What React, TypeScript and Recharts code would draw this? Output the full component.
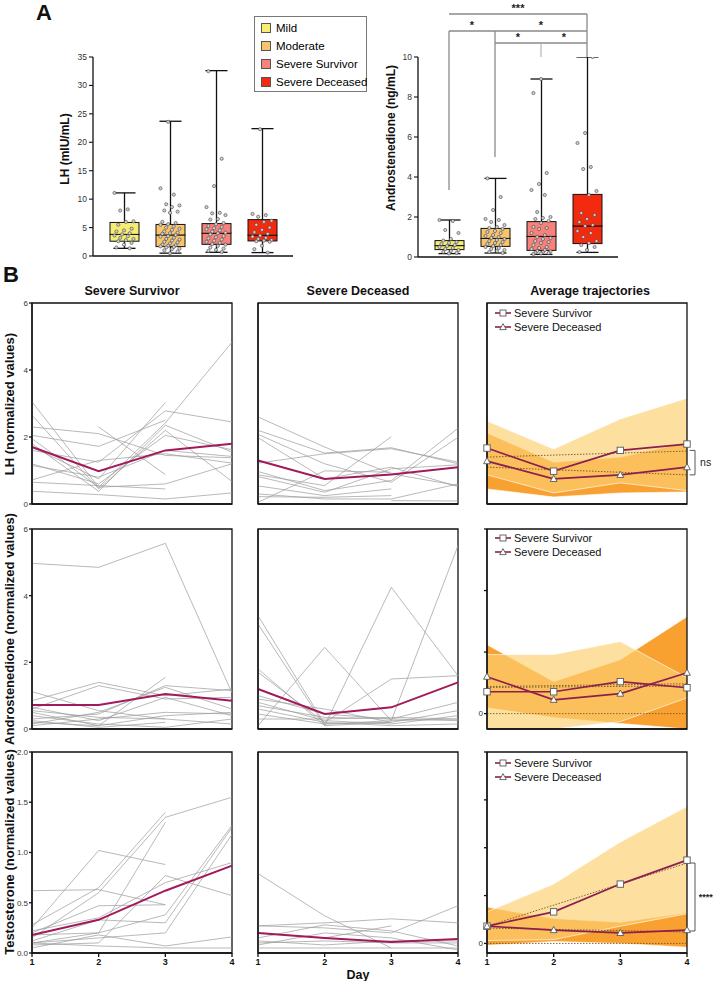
import React from 'react';
import {
  ComposedChart, LineChart, Line, Bar, Scatter, Area, XAxis, YAxis,
  ReferenceLine, ReferenceArea,
} from 'recharts';

const FONT = '"Liberation Sans", Arial, Helvetica, sans-serif';

// ---------- Panel A : box plots ----------
const groups = ['Mild', 'Moderate', 'Severe Survivor', 'Severe Deceased'];
const groupColors = ['#F6EE72', '#F9C46A', '#F7817B', '#F42A0F'];

const lhMin = [1.35, 0.5, 0.65, 0.6];
const lhQ1 = [2.6, 1.65, 2.05, 2.65];
const lhMed = [3.8, 3.7, 4.0, 3.65];
const lhQ3 = [5.9, 5.55, 5.7, 6.4];
const lhMax = [11.1, 23.7, 32.6, 22.4];
const lhTicks = [0, 5, 10, 15, 20, 25, 30, 35];

const lhMild = [11.1, 8.2, 8.0, 6.1, 6.0, 5.5, 4.8, 4.5, 4.3, 4.0, 3.8, 3.6, 3.5, 3.2, 3.0, 2.8, 2.6, 2.3, 2.0, 1.5, 1.35];
const lhModerate = [23.6, 11.9, 10.8, 9.1, 8.9, 8.6, 8.0, 7.8, 7.6, 6.0, 5.8, 5.6, 5.5, 5.2, 5.0, 4.8, 4.6, 4.3, 4.1, 4.0, 3.9, 3.7, 3.5, 3.4, 3.2, 3.0, 2.9, 2.7, 2.5, 2.4, 2.2, 2.0, 1.9, 1.8, 1.7, 1.6, 1.5, 1.3, 1.2, 1.0, 0.8, 0.5];
const lhSurvivor = [32.5, 17.1, 12.3, 8.6, 7.6, 7.5, 7.2, 6.5, 6.4, 5.8, 5.6, 5.3, 5.1, 4.9, 4.7, 4.5, 4.3, 4.1, 4.0, 3.8, 3.5, 3.3, 3.1, 2.9, 2.7, 2.5, 2.3, 2.1, 2.0, 1.8, 1.5, 1.3, 1.1, 0.9, 0.7];
const lhDeceased = [22.3, 7.4, 7.2, 6.9, 6.2, 6.0, 5.5, 5.0, 4.6, 4.2, 3.9, 3.6, 3.4, 3.2, 3.0, 2.8, 2.7, 2.6, 2.5, 1.8, 1.2, 0.6];

const anMin = [0.17, 0.2, 0.13, 0.23];
const anQ1 = [0.37, 0.53, 0.33, 0.67];
const anMed = [0.57, 0.93, 1.03, 1.55];
const anQ3 = [0.82, 1.43, 1.77, 3.13];
const anMax = [1.85, 3.93, 8.9, 10.0];
const anTicks = [0, 2, 4, 6, 8, 10];

const anMild = [1.85, 1.8, 1.35, 1.2, 0.9, 0.82, 0.75, 0.7, 0.65, 0.6, 0.55, 0.5, 0.45, 0.4, 0.35, 0.3, 0.25, 0.2, 0.18];
const anModerate = [3.93, 3.0, 2.35, 1.9, 1.85, 1.75, 1.6, 1.5, 1.45, 1.4, 1.3, 1.25, 1.2, 1.1, 1.05, 1.0, 0.95, 0.9, 0.85, 0.8, 0.75, 0.7, 0.65, 0.6, 0.55, 0.5, 0.45, 0.4, 0.35, 0.3, 0.25, 0.2];
const anSurvivor = [8.9, 8.2, 4.2, 3.65, 3.35, 3.1, 2.25, 2.0, 1.95, 1.9, 1.8, 1.7, 1.5, 1.45, 1.4, 1.2, 1.1, 1.0, 0.95, 0.9, 0.8, 0.75, 0.7, 0.6, 0.5, 0.45, 0.4, 0.35, 0.3, 0.28, 0.25, 0.22, 0.2, 0.18, 0.15];
const anDeceased = [10.0, 6.2, 5.7, 4.5, 4.4, 3.3, 3.1, 2.2, 2.1, 1.9, 1.75, 1.6, 1.55, 1.3, 1.2, 1.0, 0.8, 0.7, 0.6, 0.5, 0.35, 0.25];

// significance brackets (Androstenedione): bracket heights and leg ends
const sigTop = 12.15;
const sigMid = 11.3;
const sigLow = 10.7;
const legMild = 3.35;
const legModerate = 5.0;

// ---------- Panel B : trajectories ----------
const days = [1, 2, 3, 4];

const lhSurvLines = [
  [3.05, 0.5, 2.42, 4.83], [2.65, 0.45, 2.2, 0.67], [2.3, 2.1, 1.45, 1.38], [1.7, 0.75, 3.03, null],
  [2.05, 1.72, 2.5, null], [1.6, 1.25, 2.78, 2.45], [null, 2.3, 0.88, null], [1.2, 0.6, 2.05, 1.62],
  [0.72, 1.3, 1.5, 1.22], [1.95, 0.5, 0.6, 1.2], [0.38, 0.28, 0.15, 0.33], [0.65, 0.55, 0.45, null],
  [1.15, 0.8, 1.6, 1.42], [1.8, 0.38, 2.35, 1.55],
];
const lhSurvMean = [1.7, 0.98, 1.6, 1.8];
const lhDecLines = [
  [2.6, 1.7, 0.9, 0.55], [2.2, 1.52, 1.68, 1.2], [2.08, 1.2, 0.65, 1.99], [1.98, 0.75, 1.1, 0.52],
  [1.22, 1.5, 1.65, 1.25], [0.97, 0.4, 0.7, 2.26], [0.87, 0.55, 2.01, null], [0.82, 0.35, 1.05, 1.17],
  [0.54, 0.25, 0.45, null], [0.22, 0.2, 0.25, null], [0.05, 0.99, 0.95, null], [null, null, 0.1, 0.09],
  [0.3, 0.15, 0.15, 0.6],
];
const lhDecMean = [1.3, 0.75, 0.88, 1.1];

const anSurvLines = [
  [4.97, 4.85, 5.57, 1.08], [1.12, 0.55, 0.3, null], [0.85, 1.4, 1.0, 1.2], [0.6, 1.3, 0.9, 0.95],
  [0.5, 0.1, 1.55, null], [0.3, 0.45, 1.3, 1.15], [0.15, 0.5, 1.25, 0.6], [0.65, 0.25, 0.95, 0.4],
  [0.2, 0.1, 0.4, 0.5], [0.1, 0.3, 0.5, 0.45], [0.4, 0.15, 0.05, 0.3], [0.25, 0.05, 0.2, null],
  [0.55, 0.35, 0.3, 0.15],
];
const anSurvMean = [0.72, 0.72, 1.05, 0.85];
const anDecLines = [
  [3.4, 0.15, 0.25, 0.3], [3.15, 0.1, 0.2, null], [0.1, 2.45, 0.25, 5.5], [1.8, 0.1, 4.25, 1.6],
  [1.7, 0.2, 1.5, 1.6], [1.0, 0.45, 0.3, 0.8], [0.9, 0.6, 0.2, 0.55], [0.8, 0.25, 0.15, 0.4],
  [0.7, 0.35, 0.3, 0.25], [0.6, 0.2, 0.1, 0.15], [0.45, 0.15, 0.2, null], [0.3, 0.3, 0.35, 0.3],
];
const anDecMean = [1.2, 0.45, 0.65, 1.4];

const teSurvLines = [
  [0.62, 0.63, 0.48, null], [0.25, 1.02, 0.88, null], [0.28, 0.65, 1.4, null], [0.15, 0.6, 1.35, 1.55],
  [0.1, 0.2, 1.3, null], [0.2, 0.47, 0.48, null], [0.08, 0.1, 0.77, 0.57], [0.18, 0.2, 0.38, 1.27],
  [0.12, 0.33, 0.3, 1.25], [0.1, 0.15, 0.2, 1.18], [0.05, 0.18, 0.07, 0.16], [0.1, 0.07, 0.05, 0.05],
  [0.22, 0.35, 0.7, 0.9],
];
const teSurvMean = [0.18, 0.33, 0.62, 0.87];
const teDecLines = [
  [0.79, 0.37, 0.05, null], [0.27, 0.25, 0.2, 0.47], [0.27, 0.3, 0.34, 0.3], [0.2, 0.15, 0.27, null],
  [0.15, 0.28, 0.22, 0.07], [0.1, 0.12, 0.1, 0.1], [0.05, 0.05, 0.05, 0.05], [0.12, 0.08, 0.12, 0.12],
  [0.08, 0.2, 0.15, 0.03],
];
const teDecMean = [0.2, 0.15, 0.11, 0.14];

// average trajectories: mean, band (mean ± SD), trend end points
const lhAvgSurv = [1.67, 0.98, 1.6, 1.79];
const lhAvgDec = [1.28, 0.75, 0.87, 1.1];
const lhSurvLo = [0.87, 0.33, 0.63, 0.4];
const lhSurvHi = [2.48, 1.64, 2.54, 3.16];
const lhDecLo = [0.45, 0.21, 0.33, 0.36];
const lhDecHi = [2.12, 1.25, 1.4, 1.84];
const lhSurvTrend = [1.4, null, null, 1.58];
const lhDecTrend = [1.1, null, null, 0.87];
const lhBracket = [1.6, 0.87];

const anAvgSurv = [0.71, 0.71, 1.04, 0.84];
const anAvgDec = [1.2, 0.45, 0.65, 1.33];
const anSurvLo = [-0.5, -0.5, -0.26, 0.51];
const anSurvHi = [1.92, 1.92, 2.34, 1.17];
const anDecLo = [0.19, -0.13, -0.32, -0.5];
const anDecHi = [2.24, 1.04, 1.75, 3.15];
const anSurvTrend = [0.85, null, null, 0.9];
const anDecTrend = [0.88, null, null, 0.97];

const teAvgSurv = [0.18, 0.33, 0.62, 0.87];
const teAvgDec = [0.18, 0.14, 0.11, 0.14];
const teSurvLo = [0.03, 0.04, 0.18, 0.31];
const teSurvHi = [0.33, 0.62, 1.06, 1.43];
const teDecLo = [-0.02, 0.02, 0.0, -0.04];
const teDecHi = [0.38, 0.26, 0.22, 0.32];
const teSurvTrend = [0.18, null, null, 0.84];
const teDecTrend = [0.16, null, null, 0.12];
const teBracket = [0.84, 0.13];

const ticks6 = [0, 2, 4, 6];
const ticks2 = [0, 0.5, 1, 1.5, 2];

const axisStyle = { stroke: '#111', strokeWidth: 1.3 };
const MAGENTA = '#A3195B';
const AVG_LINE = '#8C1F50';

// ---------- helpers ----------
function boxTable(min: number[], q1: number[], med: number[], q3: number[], max: number[]) {
  return groups.map((g, i) => ({
    group: g, base: min[i], wLo: q1[i] - min[i], bLo: med[i] - q1[i], bHi: q3[i] - med[i], wHi: max[i] - q3[i],
  }));
}
function pointTable(sets: number[][]) {
  return sets.flatMap((s, i) => s.map((v) => ({ group: groups[i], v })));
}

const whisker = (top: boolean) => (p: any) => {
  const cx = p.x + p.width / 2;
  const cap = p.width * 0.38;
  const yEnd = top ? p.y : p.y + p.height;
  return (
    <g>
      <line x1={cx} x2={cx} y1={p.y} y2={p.y + p.height} stroke="#111" strokeWidth={1.3} />
      <line x1={cx - cap} x2={cx + cap} y1={yEnd} y2={yEnd} stroke="#111" strokeWidth={1.3} />
    </g>
  );
};
const boxShape = (p: any) => {
  const i = p.index ?? groups.indexOf(p.payload?.group);
  return <rect x={p.x} y={p.y} width={p.width} height={p.height} fill={groupColors[i]} stroke="#111" strokeWidth={1} />;
};
const jitterDot = (p: any) => {
  const off = ((((p.index ?? 0) * 7) % 11) - 5) * 1.9;
  return <circle cx={p.cx + off} cy={p.cy} r={1.6} fill="#d0d0d0" stroke="#444" strokeWidth={0.6} />;
};

function BoxChart({ left, table, points, yMax, ticks, plotH, children }: any) {
  return (
    <div style={{ position: 'absolute', left, top: 0 }}>
      <ComposedChart width={240} height={57 + plotH + 10} data={table} margin={{ top: 57, right: 10, bottom: 0, left: 0 }}>
        <XAxis dataKey="group" type="category" allowDuplicatedCategory={false} padding={{ left: 8, right: 8 }}
          tick={false} tickLine={false} height={10} axisLine={axisStyle} />
        <YAxis width={30} type="number" domain={[0, yMax]} ticks={ticks} interval={0} allowDataOverflow
          tickSize={4} tick={{ fontSize: 8.5, fill: '#333' }} axisLine={axisStyle} tickLine={{ stroke: '#111', strokeWidth: 1.1 }} />
        <Bar dataKey="base" stackId="b" barSize={29} fill="none" isAnimationActive={false} />
        <Bar dataKey="wLo" stackId="b" barSize={29} shape={whisker(false)} isAnimationActive={false} />
        <Bar dataKey="bLo" stackId="b" barSize={29} shape={boxShape} isAnimationActive={false} />
        <Bar dataKey="bHi" stackId="b" barSize={29} shape={boxShape} isAnimationActive={false} />
        <Bar dataKey="wHi" stackId="b" barSize={29} shape={whisker(true)} isAnimationActive={false} />
        <Scatter data={points} dataKey="v" shape={jitterDot} isAnimationActive={false} />
        {children}
      </ComposedChart>
    </div>
  );
}

const sigLine = { stroke: '#8a8a8a', strokeWidth: 1.3, ifOverflow: 'visible' as const };
const star = (value: string) => ({ value, position: 'top' as const, offset: 2, fontSize: 11, fontWeight: 700, fill: '#222' });

function Spaghetti({ left, top, h, lines, mean, domain, ticks, yLabels, xLabels, fmt }: any) {
  const data = days.map((d, i) => {
    const row: any = { day: d, mean: mean[i] };
    lines.forEach((l: any[], k: number) => { row['p' + k] = l[i]; });
    return row;
  });
  return (
    <div style={{ position: 'absolute', left: left - 30, top: top - 10 }}>
      <LineChart width={240} height={h + 30} data={data} margin={{ top: 10, right: 10, bottom: 0, left: 0 }}>
        <XAxis dataKey="day" type="number" domain={[1, 4]} ticks={days} interval={0} tickSize={4} height={20}
          axisLine={axisStyle} tickLine={axisStyle}
          tick={xLabels ? { fontSize: 9, fontWeight: 700, fill: '#111' } : false} />
        <YAxis width={30} type="number" domain={domain} ticks={ticks} interval={0} allowDataOverflow tickSize={3} tickMargin={1}
          axisLine={axisStyle} tickLine={axisStyle} tickFormatter={fmt}
          tick={yLabels ? { fontSize: 8, fill: '#333' } : false} />
        {lines.map((_: any, k: number) => (
          <Line key={k} type="linear" dataKey={'p' + k} stroke="#9b9b9b" strokeWidth={0.7} dot={false} isAnimationActive={false} />
        ))}
        <Line type="linear" dataKey="mean" stroke={MAGENTA} strokeWidth={2} dot={false} isAnimationActive={false} />
        <ReferenceArea x1={1} x2={4} y1={domain[0]} y2={domain[1]} fill="none" stroke="#111" strokeWidth={1.3} ifOverflow="visible" />
      </LineChart>
    </div>
  );
}

const sqDot = (p: any) => {
  if (p.cx == null || p.cy == null || p.value == null) return <g key={`s${p.index}`} />;
  return <rect key={`s${p.index}`} x={p.cx - 3.2} y={p.cy - 3.2} width={6.4} height={6.4} fill="#fff" stroke="#5a5a5a" strokeWidth={0.9} />;
};
const triDot = (p: any) => {
  if (p.cx == null || p.cy == null || p.value == null) return <g key={`t${p.index}`} />;
  return (
    <polygon key={`t${p.index}`} points={`${p.cx},${p.cy - 3.6} ${p.cx + 3.4},${p.cy + 2.6} ${p.cx - 3.4},${p.cy + 2.6}`}
      fill="#fff" stroke="#5a5a5a" strokeWidth={0.9} />
  );
};

function AvgPanel({ left, top, h, surv, dec, sLo, sHi, dLo, dHi, sTrend, dTrend, domain, ticks, zero, bracket, sig, xLabels }: any) {
  const data = days.map((d, i) => ({
    day: d, s: surv[i], d: dec[i], sBand: [sLo[i], sHi[i]], dBand: [dLo[i], dHi[i]], sT: sTrend[i], dT: dTrend[i],
  }));
  const bx = 4.12;
  const mid = bracket ? (bracket[0] + bracket[1]) / 2 : 0;
  return (
    <div style={{ position: 'absolute', left: left - 30, top: top - 10 }}>
      <ComposedChart width={258} height={h + 30} data={data} margin={{ top: 10, right: 28, bottom: 0, left: 0 }}>
        <XAxis dataKey="day" type="number" domain={[1, 4]} ticks={days} interval={0} tickSize={4} height={20}
          axisLine={axisStyle} tickLine={axisStyle}
          tick={xLabels ? { fontSize: 9, fontWeight: 700, fill: '#111' } : false} />
        <YAxis width={30} type="number" domain={domain} ticks={ticks} interval={0} allowDataOverflow tickSize={3} tickMargin={1}
          axisLine={axisStyle} tickLine={axisStyle} tickFormatter={(v: number) => (v === 0 ? '0' : '')}
          tick={zero ? { fontSize: 8, fill: '#333' } : false} />
        <Area type="linear" dataKey="dBand" fill="#F8A030" fillOpacity={1} stroke="#ffffff" strokeOpacity={0.8} strokeWidth={0.8} isAnimationActive={false} />
        <Area type="linear" dataKey="sBand" fill="#FCCF71" fillOpacity={0.67} stroke="#ffffff" strokeOpacity={0.8} strokeWidth={0.8} isAnimationActive={false} />
        {zero && <ReferenceLine y={0} stroke="#7a5a20" strokeDasharray="1.5 1.5" strokeWidth={0.9} />}
        <Line type="linear" dataKey="sT" connectNulls stroke="#6b5530" strokeDasharray="1.5 1.5" strokeWidth={0.9} dot={false} isAnimationActive={false} />
        <Line type="linear" dataKey="dT" connectNulls stroke="#6b5530" strokeDasharray="1.5 1.5" strokeWidth={0.9} dot={false} isAnimationActive={false} />
        <Line type="linear" dataKey="s" stroke={AVG_LINE} strokeWidth={1.7} dot={sqDot} isAnimationActive={false} />
        <Line type="linear" dataKey="d" stroke={AVG_LINE} strokeWidth={1.7} dot={triDot} isAnimationActive={false} />
        <ReferenceArea x1={1} x2={4} y1={domain[0]} y2={domain[1]} fill="none" stroke="#111" strokeWidth={1.3} ifOverflow="visible" />
        {bracket && (
          <>
            <ReferenceLine segment={[{ x: bx, y: bracket[0] }, { x: bx, y: bracket[1] }]} stroke="#444" strokeWidth={0.9} ifOverflow="visible" />
            <ReferenceLine segment={[{ x: 4.04, y: bracket[0] }, { x: bx, y: bracket[0] }]} stroke="#444" strokeWidth={0.9} ifOverflow="visible" />
            <ReferenceLine segment={[{ x: 4.04, y: bracket[1] }, { x: bx, y: bracket[1] }]} stroke="#444" strokeWidth={0.9} ifOverflow="visible" />
            <ReferenceLine segment={[{ x: 4.18, y: mid }, { x: 4.38, y: mid }]} stroke="none" ifOverflow="visible"
              label={{ value: sig, position: 'center', fontSize: sig === 'ns' ? 10.5 : 9, fontWeight: sig === 'ns' ? 400 : 700, fill: '#222' }} />
          </>
        )}
      </ComposedChart>
    </div>
  );
}

function AvgLegend({ left, top }: any) {
  return (
    <div style={{ position: 'absolute', left, top, fontSize: 11, color: '#111' }}>
      {['Severe Survivor', 'Severe Deceased'].map((t, i) => (
        <div key={t} style={{ display: 'flex', alignItems: 'center', height: 14 }}>
          <svg width={16} height={10}>
            <line x1={0} x2={16} y1={5} y2={5} stroke={AVG_LINE} strokeWidth={1.6} />
            {i === 0
              ? <rect x={5} y={2} width={6} height={6} fill="#fff" stroke="#5a5a5a" strokeWidth={0.9} />
              : <polygon points="8,1.6 11.3,7.6 4.7,7.6" fill="#fff" stroke="#5a5a5a" strokeWidth={0.9} />}
          </svg>
          <span style={{ marginLeft: 3, whiteSpace: 'nowrap' }}>{t}</span>
        </div>
      ))}
    </div>
  );
}

const Txt = ({ x, y, size, bold, rotate, children }: any) => (
  <div style={{
    position: 'absolute', left: x, top: y, fontSize: size, fontWeight: bold ? 700 : 400, whiteSpace: 'nowrap',
    lineHeight: 1.15, transform: `translate(-50%, -50%)${rotate ? ' rotate(-90deg)' : ''}`, color: '#111',
  }}>{children}</div>
);

export default function App() {
  const lhTable = boxTable(lhMin, lhQ1, lhMed, lhQ3, lhMax);
  const anTable = boxTable(anMin, anQ1, anMed, anQ3, anMax);
  const lhPoints = pointTable([lhMild, lhModerate, lhSurvivor, lhDeceased]);
  const anPoints = pointTable([anMild, anModerate, anSurvivor, anDeceased]);
  const cols = [32, 258, 487];
  const rows = [303, 529, 752];
  const hs = [201, 200, 201];
  const f1 = (v: number) => v.toFixed(1);
  const f0 = (v: number) => String(v);

  return (
    <div style={{ position: 'relative', width: 716, height: 981, overflow: 'hidden', background: '#fff', fontFamily: FONT }}>
      <style>{'body{margin:0}'}</style>

      {/* Panel A */}
      <Txt x={44} y={13} size={22} bold>A</Txt>
      <div style={{ position: 'absolute', left: 254, top: 16, width: 113, height: 76, border: '1px solid #777', boxSizing: 'border-box' }}>
        {groups.map((g, i) => (
          <div key={g} style={{ position: 'absolute', left: 6, top: 5 + i * 18, height: 12, display: 'flex', alignItems: 'center' }}>
            <div style={{ width: 8, height: 8, background: groupColors[i], border: '1px solid #555' }} />
            <span style={{ marginLeft: 5, fontSize: 11.5, whiteSpace: 'nowrap' }}>{g}</span>
          </div>
        ))}
      </div>

      <BoxChart left={63} table={lhTable} points={lhPoints} yMax={35} ticks={lhTicks} plotH={199} />
      <Txt x={66} y={149} size={12} bold rotate>LH (mIU/mL)</Txt>

      <BoxChart left={388} table={anTable} points={anPoints} yMax={10} ticks={anTicks} plotH={200}>
        <ReferenceLine segment={[{ x: 'Mild', y: sigTop }, { x: 'Severe Deceased', y: sigTop }]} {...sigLine} label={star('***')} />
        <ReferenceLine segment={[{ x: 'Mild', y: sigMid }, { x: 'Moderate', y: sigMid }]} {...sigLine} label={star('*')} />
        <ReferenceLine segment={[{ x: 'Moderate', y: sigMid }, { x: 'Severe Deceased', y: sigMid }]} {...sigLine} label={star('*')} />
        <ReferenceLine segment={[{ x: 'Moderate', y: sigLow }, { x: 'Severe Survivor', y: sigLow }]} {...sigLine} label={star('*')} />
        <ReferenceLine segment={[{ x: 'Severe Survivor', y: sigLow }, { x: 'Severe Deceased', y: sigLow }]} {...sigLine} label={star('*')} />
        <ReferenceLine segment={[{ x: 'Mild', y: sigMid }, { x: 'Mild', y: legMild }]} {...sigLine} />
        <ReferenceLine segment={[{ x: 'Moderate', y: sigMid }, { x: 'Moderate', y: legModerate }]} {...sigLine} />
        <ReferenceLine segment={[{ x: 'Severe Survivor', y: sigLow }, { x: 'Severe Survivor', y: 10 }]} {...sigLine} stroke="#bbbbbb" />
        <ReferenceLine segment={[{ x: 'Severe Deceased', y: sigTop }, { x: 'Severe Deceased', y: 10 }]} {...sigLine} />
      </BoxChart>
      <Txt x={392} y={138} size={12} bold rotate>Androstenedione (ng/mL)</Txt>

      {/* Panel B */}
      <Txt x={11} y={275} size={22} bold>B</Txt>
      <Txt x={132} y={291} size={12.5} bold>Severe Survivor</Txt>
      <Txt x={358} y={291} size={12.5} bold>Severe Deceased</Txt>
      <Txt x={590} y={291} size={12.5} bold>Average trajectories</Txt>

      <Txt x={10} y={404} size={13} bold rotate>LH (normalized values)</Txt>
      <Txt x={10} y={629} size={13} bold rotate>Androstenedione (normalized values)</Txt>
      <Txt x={10} y={852} size={13} bold rotate>Testosterone (normalized values)</Txt>

      <Spaghetti left={cols[0]} top={rows[0]} h={hs[0]} lines={lhSurvLines} mean={lhSurvMean} domain={[0, 6]} ticks={ticks6} yLabels fmt={f0} />
      <Spaghetti left={cols[1]} top={rows[0]} h={hs[0]} lines={lhDecLines} mean={lhDecMean} domain={[0, 6]} ticks={ticks6} fmt={f0} />
      <AvgPanel left={cols[2]} top={rows[0]} h={hs[0]} surv={lhAvgSurv} dec={lhAvgDec} sLo={lhSurvLo} sHi={lhSurvHi}
        dLo={lhDecLo} dHi={lhDecHi} sTrend={lhSurvTrend} dTrend={lhDecTrend} domain={[0, 6]} ticks={ticks6}
        bracket={lhBracket} sig="ns" />
      <AvgLegend left={495} top={306} />

      <Spaghetti left={cols[0]} top={rows[1]} h={hs[1]} lines={anSurvLines} mean={anSurvMean} domain={[0, 6]} ticks={ticks6} yLabels fmt={f0} />
      <Spaghetti left={cols[1]} top={rows[1]} h={hs[1]} lines={anDecLines} mean={anDecMean} domain={[0, 6]} ticks={ticks6} fmt={f0} />
      <AvgPanel left={cols[2]} top={rows[1]} h={hs[1]} surv={anAvgSurv} dec={anAvgDec} sLo={anSurvLo} sHi={anSurvHi}
        dLo={anDecLo} dHi={anDecHi} sTrend={anSurvTrend} dTrend={anDecTrend} domain={[-0.5, 6]} ticks={ticks6} zero />
      <AvgLegend left={495} top={531} />

      <Spaghetti left={cols[0]} top={rows[2]} h={hs[2]} lines={teSurvLines} mean={teSurvMean} domain={[0, 2]} ticks={ticks2} yLabels xLabels fmt={f1} />
      <Spaghetti left={cols[1]} top={rows[2]} h={hs[2]} lines={teDecLines} mean={teDecMean} domain={[0, 2]} ticks={ticks2} xLabels fmt={f1} />
      <AvgPanel left={cols[2]} top={rows[2]} h={hs[2]} surv={teAvgSurv} dec={teAvgDec} sLo={teSurvLo} sHi={teSurvHi}
        dLo={teDecLo} dHi={teDecHi} sTrend={teSurvTrend} dTrend={teDecTrend} domain={[-0.1, 2]} ticks={ticks2} zero
        bracket={teBracket} sig="****" xLabels />
      <AvgLegend left={495} top={756} />

      <Txt x={358} y={975} size={12.5} bold>Day</Txt>
    </div>
  );
}
